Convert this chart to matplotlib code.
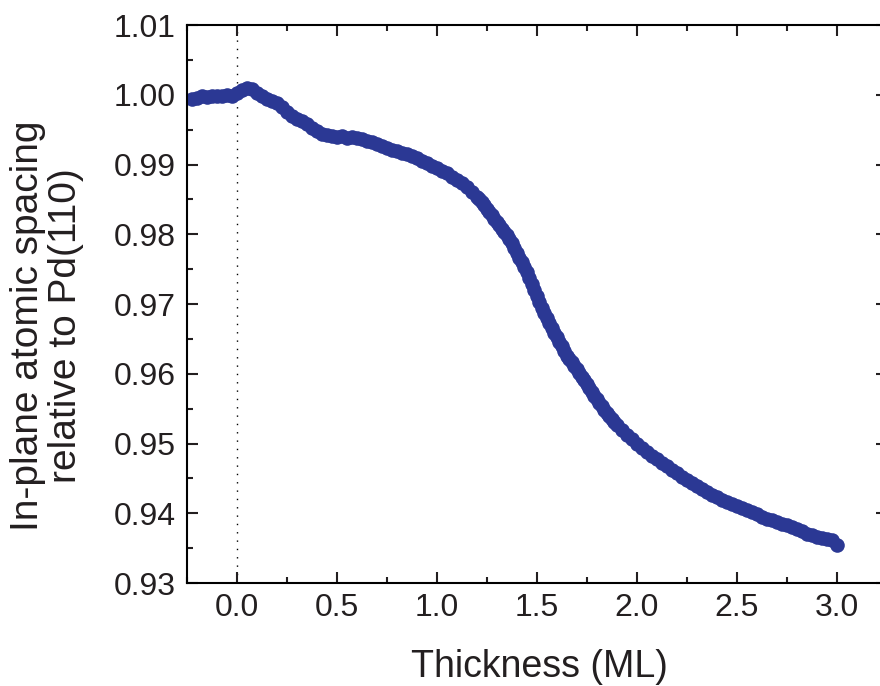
import matplotlib
matplotlib.use("Agg")
import matplotlib.pyplot as plt
from matplotlib.ticker import MultipleLocator, FormatStrFormatter

plt.rcParams['font.family'] = ['Liberation Sans', 'DejaVu Sans']

# thickness (ML), every 0.025 ML
thickness = [
    -0.225, -0.2, -0.175, -0.15, -0.125, -0.1, -0.075, -0.05, -0.025,
    0.0, 0.025, 0.05, 0.075, 0.1, 0.125, 0.15, 0.175, 0.2, 0.225,
    0.25, 0.275, 0.3, 0.325, 0.35, 0.375, 0.4, 0.425, 0.45, 0.475,
    0.5, 0.525, 0.55, 0.575, 0.6, 0.625, 0.65, 0.675, 0.7, 0.725,
    0.75, 0.775, 0.8, 0.825, 0.85, 0.875, 0.9, 0.925, 0.95, 0.975,
    1.0, 1.025, 1.05, 1.075, 1.1, 1.125, 1.15, 1.175, 1.2, 1.225,
    1.25, 1.275, 1.3, 1.325, 1.35, 1.375, 1.4, 1.425, 1.45, 1.475,
    1.5, 1.525, 1.55, 1.575, 1.6, 1.625, 1.65, 1.675, 1.7, 1.725,
    1.75, 1.775, 1.8, 1.825, 1.85, 1.875, 1.9, 1.925, 1.95, 1.975,
    2.0, 2.025, 2.05, 2.075, 2.1, 2.125, 2.15, 2.175, 2.2, 2.225,
    2.25, 2.275, 2.3, 2.325, 2.35, 2.375, 2.4, 2.425, 2.45, 2.475,
    2.5, 2.525, 2.55, 2.575, 2.6, 2.625, 2.65, 2.675, 2.7, 2.725,
    2.75, 2.775, 2.8, 2.825, 2.85, 2.875, 2.9, 2.925, 2.95, 2.975,
    3.0,
]

# in-plane atomic spacing relative to Pd(110)
spacing = [
    0.99946, 0.99961, 0.99982, 0.99975, 0.99989, 0.99982, 0.99989, 1.00004, 0.99989,
    1.00032, 1.00075, 1.00097, 1.00082, 1.00025, 0.99982, 0.99939, 0.99910, 0.99882, 0.99824,
    0.99753, 0.99702, 0.99659, 0.99624, 0.99581, 0.99530, 0.99487, 0.99444, 0.99423, 0.99409,
    0.99401, 0.99409, 0.99387, 0.99394, 0.99380, 0.99366, 0.99344, 0.99323, 0.99294, 0.99272,
    0.99244, 0.99215, 0.99194, 0.99172, 0.99151, 0.99122, 0.99093, 0.99057, 0.99022, 0.98978,
    0.98950, 0.98914, 0.98878, 0.98828, 0.98778, 0.98735, 0.98677, 0.98613, 0.98541, 0.98462,
    0.98369, 0.98276, 0.98176, 0.98082, 0.97989, 0.97875, 0.97731, 0.97602, 0.97459, 0.97287,
    0.97115, 0.96943, 0.96799, 0.96656, 0.96527, 0.96398, 0.96262, 0.96168, 0.96068, 0.95960,
    0.95853, 0.95738, 0.95638, 0.95537, 0.95437, 0.95351, 0.95272, 0.95200, 0.95128, 0.95064,
    0.95000, 0.94942, 0.94885, 0.94828, 0.94778, 0.94727, 0.94677, 0.94627, 0.94577, 0.94527,
    0.94477, 0.94434, 0.94391, 0.94348, 0.94305, 0.94269, 0.94233, 0.94197, 0.94161, 0.94132,
    0.94104, 0.94075, 0.94046, 0.94018, 0.93989, 0.93953, 0.93925, 0.93903, 0.93882, 0.93853,
    0.93832, 0.93803, 0.93774, 0.93746, 0.93710, 0.93688, 0.93667, 0.93652, 0.93638, 0.93624,
    0.93545,
]

# extra readings in the steep part, where the data points sit closer together
thickness_steep = [
    1.2125, 1.2375, 1.2625, 1.2875, 1.3125, 1.3375, 1.3625, 1.3875,
    1.4125, 1.4375, 1.4625, 1.4875, 1.5125, 1.5375, 1.5625, 1.5875,
    1.6125, 1.6375, 1.6625, 1.6875, 1.7125, 1.7375, 1.7625, 1.7875,
    1.8125, 1.8375, 1.8625, 1.8875,
]
spacing_steep = [
    0.98505, 0.98419, 0.98326, 0.98226, 0.98133, 0.98039, 0.97932, 0.97803,
    0.97667, 0.97530, 0.97373, 0.97201, 0.97029, 0.96871, 0.96728, 0.96591,
    0.96462, 0.96326, 0.96219, 0.96118, 0.96011, 0.95910, 0.95795, 0.95688,
    0.95588, 0.95487, 0.95394, 0.95308,
]

blue = '#2b3894'

fig = plt.figure(figsize=(8.8, 6.86), dpi=100)
ax = fig.add_axes([0.2125, 0.1501, 0.795, 0.8134])

ax.axvline(0.0, color='black', lw=1.0, linestyle=(0, (1, 5)), zorder=1)
ax.plot(thickness, spacing, 'o', color=blue, markersize=10.5,
        markeredgewidth=0, zorder=2)
ax.plot(thickness_steep, spacing_steep, 'o', color=blue, markersize=10.5,
        markeredgewidth=0, zorder=2)

ax.set_xlim(-0.25, 3.25)
ax.set_ylim(0.93, 1.01)
ax.xaxis.set_major_locator(MultipleLocator(0.5))
ax.xaxis.set_minor_locator(MultipleLocator(0.25))
ax.yaxis.set_major_locator(MultipleLocator(0.01))
ax.yaxis.set_minor_locator(MultipleLocator(0.005))
ax.xaxis.set_major_formatter(FormatStrFormatter('%.1f'))
ax.yaxis.set_major_formatter(FormatStrFormatter('%.2f'))

for s in ax.spines.values():
    s.set_linewidth(1.5)
# the right edge of the frame falls just outside the cropped picture
ax.spines['right'].set_visible(False)
ax.tick_params(which='both', direction='in', top=True, right=True, width=1.5,
               labelsize=23, colors='#231f20')
ax.tick_params(which='major', length=8)
ax.tick_params(which='minor', length=4.5)
ax.tick_params(axis='x', which='major', pad=7)
ax.tick_params(axis='y', which='major', pad=8)

fig.text(539 / 880, 9 / 686, 'Thickness (ML)', ha='center', va='baseline',
         fontsize=27, color='#231f20')
fig.text(47 / 880, 1 - 326 / 686, 'In-plane atomic spacing\nrelative to Pd(110)',
         ha='center', va='center', rotation=90, multialignment='center',
         linespacing=1.05, fontsize=28, color='#231f20')

fig.savefig('out.png', dpi=100)
